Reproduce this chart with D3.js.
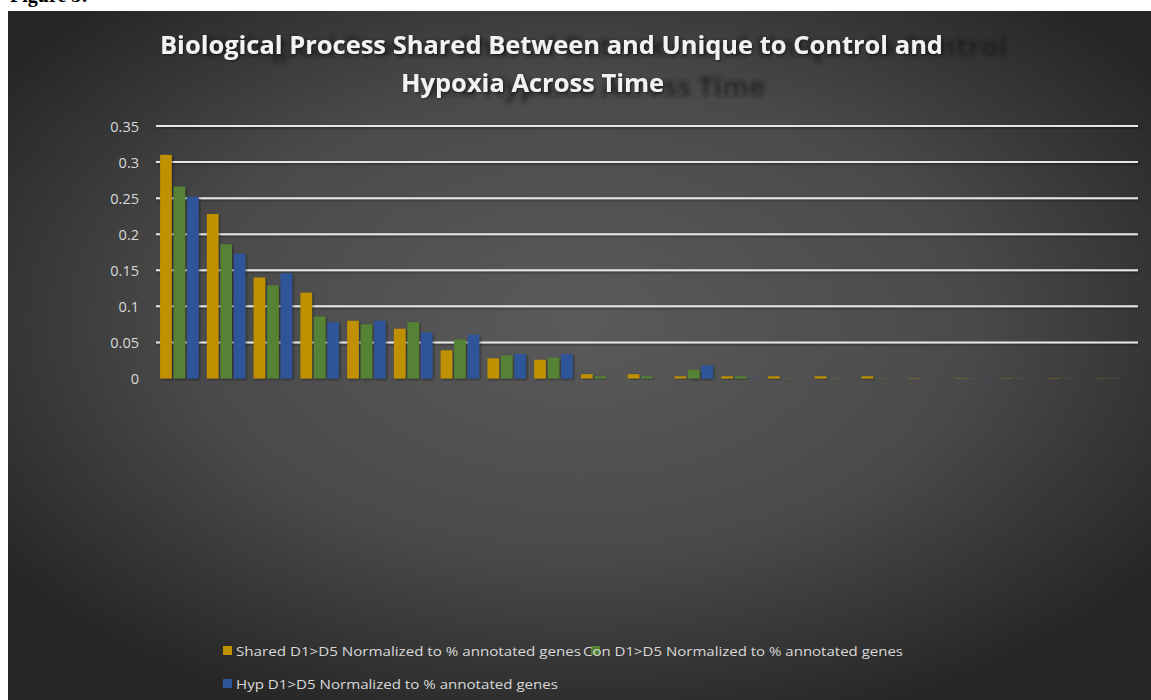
<!DOCTYPE html>
<html>
<head>
<meta charset="utf-8">
<script src="https://cdn.jsdelivr.net/npm/d3@7"></script>
<style>
  html, body { margin: 0; padding: 0; background: #ffffff; overflow: hidden; }
  svg { display: block; }
</style>
</head>
<body>
<svg id="chart" width="1151" height="700"></svg>
<script>
// ---- data ----
const categories = ["1","2","3","4","5","6","7","8","9","10","11","12","13","14","15","16","17","18","19","20","21"];
const sharedValues = [0.310, 0.228, 0.140, 0.119, 0.080, 0.069, 0.039, 0.028, 0.026, 0.006, 0.006, 0.003, 0.003, 0.003, 0.003, 0.003, 0.0004, 0.0004, 0.0004, 0.0004, 0.0003];
const conValues    = [0.266, 0.186, 0.129, 0.086, 0.075, 0.078, 0.054, 0.032, 0.029, 0.003, 0.003, 0.012, 0.003, 0.0005, 0.0005, 0.0005, 0.0003, 0.0003, 0.0003, 0.0003, 0.0004];
const hypValues    = [0.252, 0.173, 0.146, 0.078, 0.080, 0.064, 0.061, 0.034, 0.034, 0.000, 0.000, 0.018, 0.0005, 0.0004, 0.000, 0.000, 0.000, 0.0004, 0.000, 0.000, 0.000];
const seriesNames = [
  "Shared D1>D5 Normalized to % annotated genes",
  "Con D1>D5 Normalized to % annotated genes",
  "Hyp D1>D5 Normalized to % annotated genes"
];
const yTicks = [0, 0.05, 0.1, 0.15, 0.2, 0.25, 0.3, 0.35];
const yTickLabels = ["0", "0.05", "0.1", "0.15", "0.2", "0.25", "0.3", "0.35"];
const titleLines = ["Biological Process Shared Between and Unique to Control and", "Hypoxia Across Time"];
const figureLabel = "Figure 3:";

const colors = ["#BF9000", "#548235", "#2F5597"];
const seriesData = [sharedValues, conValues, hypValues];

const svg = d3.select("#chart");
const W = 1151, H = 700;
const defs = svg.append("defs");

// background gradient
const rg = defs.append("radialGradient").attr("id", "bg")
  .attr("cx", "0.5").attr("cy", "0.45").attr("r", "0.62");
rg.append("stop").attr("offset", "0").attr("stop-color", "#5a5a5a");
rg.append("stop").attr("offset", "0.55").attr("stop-color", "#4a4a4a");
rg.append("stop").attr("offset", "1").attr("stop-color", "#262626");

const sh = defs.append("filter").attr("id", "shadow").attr("x", "-20%").attr("y", "-20%").attr("width", "150%").attr("height", "150%");
sh.append("feDropShadow").attr("dx", 1.2).attr("dy", 1.2).attr("stdDeviation", 1.2)
  .attr("flood-color", "#000").attr("flood-opacity", 0.45);

const blur = defs.append("filter").attr("id", "blur").attr("x", "-10%").attr("y", "-50%").attr("width", "120%").attr("height", "200%");
blur.append("feGaussianBlur").attr("stdDeviation", 2);

// figure label (mostly cut off at top)
svg.append("text").attr("x", 10).attr("y", 2)
  .attr("font-family", "'Liberation Serif', serif").attr("font-weight", "bold")
  .attr("font-size", 20).attr("fill", "#000").text(figureLabel);

// panel
svg.append("rect").attr("x", 8).attr("y", 11).attr("width", W - 8).attr("height", H - 11)
  .attr("fill", "url(#bg)");

// title shadow (enlarged, offset reflection; the last word of line 1 wraps)
const words1 = titleLines[0].split(" ");
const shadowLines = [words1.slice(0, -1).join(" "), words1[words1.length - 1] + " " + titleLines[1]];
const shadowLayout = [
  {x: 604, y: 56, len: 806},
  {x: 595, y: 96, len: 340}
];
const tShadow = svg.append("g").attr("filter", "url(#blur)").attr("opacity", 0.6).attr("aria-hidden", "true");
shadowLines.forEach((t, i) => {
  tShadow.append("text").attr("x", shadowLayout[i].x).attr("y", shadowLayout[i].y)
    .attr("text-anchor", "middle")
    .attr("font-family", "'Open Sans', sans-serif").attr("font-weight", "bold")
    .attr("font-size", 27).attr("fill", "#161616")
    .attr("textLength", shadowLayout[i].len).attr("lengthAdjust", "spacingAndGlyphs")
    .text(t);
});

const titleLayout = [
  {x: 551.5, y: 54, len: 783},
  {x: 532.5, y: 92, len: 263}
];
titleLines.forEach((t, i) => {
  svg.append("text").attr("x", titleLayout[i].x).attr("y", titleLayout[i].y)
    .attr("text-anchor", "middle")
    .attr("font-family", "'Open Sans', sans-serif").attr("font-weight", "bold")
    .attr("font-size", 25).attr("fill", "#f2f2f2")
    .attr("textLength", titleLayout[i].len).attr("lengthAdjust", "spacingAndGlyphs")
    .attr("filter", "url(#shadow)")
    .text(t);
});

// scales
const plotL = 156, plotR = 1138, plotT = 126, plotB = 378.5;
const y = d3.scaleLinear().domain([0, 0.35]).range([plotB, plotT]);
const x0 = d3.scaleBand().domain(categories).range([plotL, plotR]).padding(0);
const bw0 = x0.bandwidth();
const barW = bw0 / 4;
const x1 = d3.scaleBand().domain([0, 1, 2])
  .range([barW * 0.35, bw0 - barW * 0.35]).paddingInner(0.13).paddingOuter(0);

// gridlines (except zero)
const grid = svg.append("g").attr("filter", "url(#shadow)");
grid.selectAll("line").data(yTicks.filter(v => v > 0)).join("line")
  .attr("x1", plotL).attr("x2", plotR)
  .attr("y1", d => y(d)).attr("y2", d => y(d))
  .attr("stroke", "#e6e6e6").attr("stroke-width", 2);

// y axis labels via d3 axis
const yAxis = d3.axisLeft(y).tickValues(yTicks)
  .tickFormat((d, i) => yTickLabels[i]).tickSize(0).tickPadding(0);
const yg = svg.append("g").attr("transform", "translate(139,0)").call(yAxis);
yg.select(".domain").remove();
yg.selectAll("text").attr("font-family", "'Open Sans', sans-serif")
  .attr("font-size", 14.5).attr("fill", "#d9d9d9").attr("dy", "0.35em");

// bars
const groups = svg.append("g").selectAll("g").data(categories).join("g")
  .attr("transform", d => `translate(${x0(d)},0)`);
groups.selectAll("rect").data((c, ci) => seriesData.map((s, si) => ({si, v: s[ci]}))).join("rect")
  .attr("x", d => x1(d.si)).attr("width", x1.bandwidth())
  .attr("y", d => y(d.v)).attr("height", d => y(0) - y(d.v))
  .attr("fill", d => colors[d.si])
  .attr("filter", "url(#shadow)");

// zero line on top
svg.append("line").attr("x1", plotL).attr("x2", plotR)
  .attr("y1", y(0)).attr("y2", y(0))
  .attr("stroke", "#e6e6e6").attr("stroke-width", 2).attr("filter", "url(#shadow)");

// legend
const legendItems = [
  {sx: 223, sy: 646, tx: 236, ty: 656, len: 345},
  {sx: 591, sy: 646, tx: 583, ty: 656, len: 320},
  {sx: 223, sy: 679, tx: 236, ty: 689, len: 322}
];
const lg = svg.append("g");
legendItems.forEach((it, i) => {
  lg.append("rect").attr("x", it.sx).attr("y", it.sy).attr("width", 9).attr("height", 9)
    .attr("fill", colors[i]);
});
legendItems.forEach((it, i) => {
  lg.append("text").attr("x", it.tx).attr("y", it.ty)
    .attr("font-family", "'Open Sans', sans-serif").attr("font-size", 13.5)
    .attr("fill", "#d9d9d9")
    .attr("textLength", it.len).attr("lengthAdjust", "spacingAndGlyphs")
    .text(seriesNames[i]);
});
</script>
</body>
</html>
